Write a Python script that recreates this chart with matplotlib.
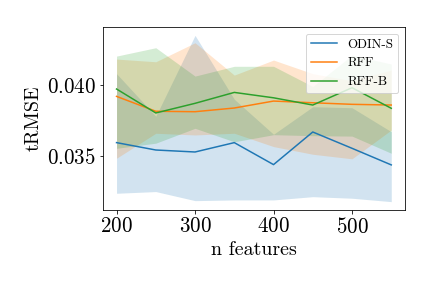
import numpy as np
import matplotlib
matplotlib.use("Agg")
import matplotlib.pyplot as plt

plt.rcParams['font.family'] = 'serif'
plt.rcParams['font.serif'] = ['cmr10', 'DejaVu Serif']
plt.rcParams['mathtext.fontset'] = 'cm'
plt.rcParams['axes.formatter.use_mathtext'] = True

# values
n_features = [200, 250, 300, 350, 400, 450, 500, 550]

odin_mean = [0.03594, 0.03542, 0.03528, 0.03594, 0.03439, 0.03669, 0.03554, 0.03437]
odin_low = [0.03237, 0.03249, 0.03185, 0.03190, 0.03190, 0.03213, 0.03202, 0.03178]
odin_high = [0.04080, 0.03780, 0.04350, 0.03900, 0.03653, 0.03847, 0.03840, 0.03671]

rff_mean = [0.03920, 0.03815, 0.03812, 0.03838, 0.03887, 0.03875, 0.03864, 0.03859]
rff_low = [0.03484, 0.03660, 0.03648, 0.03660, 0.03566, 0.03512, 0.03480, 0.03683]
rff_high = [0.04183, 0.04164, 0.04298, 0.04070, 0.04176, 0.04080, 0.04030, 0.04106]

rffb_mean = [0.03972, 0.03803, 0.03871, 0.03948, 0.03910, 0.03859, 0.03981, 0.03836]
rffb_low = [0.03554, 0.03590, 0.03695, 0.03600, 0.03650, 0.03643, 0.03640, 0.03519]
rffb_high = [0.04204, 0.04263, 0.04063, 0.04132, 0.04132, 0.03990, 0.04210, 0.04148]

series = [
    ('ODIN-S', odin_mean, odin_low, odin_high, 'tab:blue'),
    ('RFF', rff_mean, rff_low, rff_high, 'tab:orange'),
    ('RFF-B', rffb_mean, rffb_low, rffb_high, 'tab:green'),
]

fig = plt.figure(figsize=(6, 4), dpi=72)
ax = fig.add_subplot(111)
fig.subplots_adjust(left=0.238, right=0.9375, top=0.906, bottom=0.271)

for name, m, lo, hi, c in series:
    ax.plot(n_features, m, color=c, lw=1.5, label=name)
    ax.fill_between(n_features, lo, hi, color=c, alpha=0.2, lw=0)

ax.set_xticks([200, 300, 400, 500])
ax.set_yticks([0.035, 0.040])
ax.tick_params(labelsize=21)
ax.set_xlabel('n features', fontsize=20)
ax.set_ylabel('tRMSE', fontsize=20)
ax.legend(loc='upper right', fontsize=13)

fig.savefig('out.png', dpi=72)
